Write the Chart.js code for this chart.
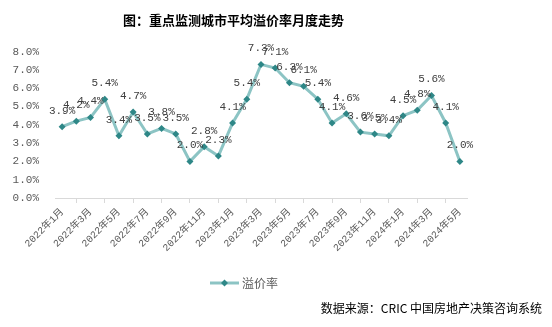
<!DOCTYPE html>
<html>
<head>
<meta charset="utf-8">
<script src="https://cdn.jsdelivr.net/npm/chart.js@4.4.1/dist/chart.umd.min.js"></script>
<style>
  body { margin: 0; background: #fff; }
  #wrap { width: 552px; height: 327px; }
</style>
</head>
<body>
<div id="wrap"><canvas id="premiumChart" width="552" height="327"></canvas></div>
<script>
const months = [
  "2022年1月", "2022年2月", "2022年3月", "2022年4月", "2022年5月", "2022年6月",
  "2022年7月", "2022年8月", "2022年9月", "2022年10月", "2022年11月", "2022年12月",
  "2023年1月", "2023年2月", "2023年3月", "2023年4月", "2023年5月", "2023年6月",
  "2023年7月", "2023年8月", "2023年9月", "2023年10月", "2023年11月", "2023年12月",
  "2024年1月", "2024年2月", "2024年3月", "2024年4月", "2024年5月"
];
const premiumRate = [
  3.9, 4.2, 4.4, 5.4, 3.4, 4.7, 3.5, 3.8, 3.5, 2.0, 2.8, 2.3,
  4.1, 5.4, 7.3, 7.1, 6.3, 6.1, 5.4, 4.1, 4.6, 3.6, 3.5, 3.4,
  4.5, 4.8, 5.6, 4.1, 2.0
];
const seriesName = "溢价率";
const chartTitle = "图：重点监测城市平均溢价率月度走势";
const sourceNote = "数据来源：CRIC 中国房地产决策咨询系统";

const numFont = '"Liberation Mono", "Noto Sans CJK SC", monospace';
const cjkFont = '"Noto Sans CJK SC", sans-serif';
const lineColor = "#8cc4c4";
const markColor = "#2e8787";

// value text above each point
const pointLabels = {
  id: "pointLabels",
  afterDatasetsDraw(chart) {
    const ctx = chart.ctx;
    const meta = chart.getDatasetMeta(0);
    ctx.save();
    ctx.font = "11px " + numFont;
    ctx.fillStyle = "#404040";
    ctx.textAlign = "center";
    ctx.textBaseline = "middle";
    meta.data.forEach((pt, i) => {
      ctx.fillText(premiumRate[i].toFixed(1) + "%", pt.x, pt.y - 16);
    });
    ctx.restore();
  }
};

// legend (line + diamond) and source line at the bottom
const footer = {
  id: "footer",
  afterDraw(chart) {
    const ctx = chart.ctx;
    ctx.save();
    const ly = 283;
    ctx.strokeStyle = lineColor;
    ctx.lineWidth = 3;
    ctx.beginPath();
    ctx.moveTo(210, ly);
    ctx.lineTo(239, ly);
    ctx.stroke();
    ctx.fillStyle = markColor;
    ctx.beginPath();
    ctx.moveTo(224.5, ly - 3.5);
    ctx.lineTo(228, ly);
    ctx.lineTo(224.5, ly + 3.5);
    ctx.lineTo(221, ly);
    ctx.closePath();
    ctx.fill();
    ctx.font = "12px " + cjkFont;
    ctx.fillStyle = "#595959";
    ctx.textAlign = "left";
    ctx.textBaseline = "middle";
    ctx.fillText(seriesName, 242, ly);

    ctx.font = "12px " + cjkFont;
    ctx.fillStyle = "#000";
    ctx.textAlign = "right";
    ctx.fillText(sourceNote, 542, 308);
    ctx.restore();
  }
};

new Chart(document.getElementById("premiumChart"), {
  type: "line",
  data: {
    labels: months,
    datasets: [{
      label: seriesName,
      data: premiumRate,
      borderColor: lineColor,
      borderWidth: 3,
      pointStyle: "rectRot",
      pointRadius: 3.5,
      pointBackgroundColor: markColor,
      pointBorderColor: markColor,
      pointBorderWidth: 0,
      tension: 0
    }]
  },
  options: {
    responsive: false,
    animation: false,
    layout: { padding: { left: 0, right: 85, top: 0, bottom: 67 } },
    plugins: {
      legend: { display: false },
      tooltip: { enabled: false },
      title: {
        display: true,
        text: chartTitle,
        color: "#000",
        font: { family: cjkFont, size: 13, weight: "bold" },
        padding: { top: 12, bottom: 24 }
      }
    },
    scales: {
      x: {
        offset: true,
        afterFit(scale) { scale.height = 62; },
        border: { display: true, color: "#d9d9d9", width: 1 },
        grid: {
          offset: true,
          drawOnChartArea: false,
          drawTicks: true,
          tickLength: 5,
          color: "#d9d9d9"
        },
        ticks: {
          autoSkip: false,
          maxRotation: 45,
          minRotation: 45,
          padding: 3,
          color: "#595959",
          font: { family: numFont, size: 10 },
          callback(value, index) {
            return index % 2 === 0 ? months[index] : null;
          }
        }
      },
      y: {
        min: 0,
        max: 8,
        afterFit(scale) { scale.width = 55; },
        border: { display: false },
        grid: { display: false },
        ticks: {
          stepSize: 1,
          padding: 8,
          color: "#595959",
          font: { family: numFont, size: 11 },
          callback(v) { return v.toFixed(1) + "%"; }
        }
      }
    }
  },
  plugins: [pointLabels, footer]
});
</script>
</body>
</html>
